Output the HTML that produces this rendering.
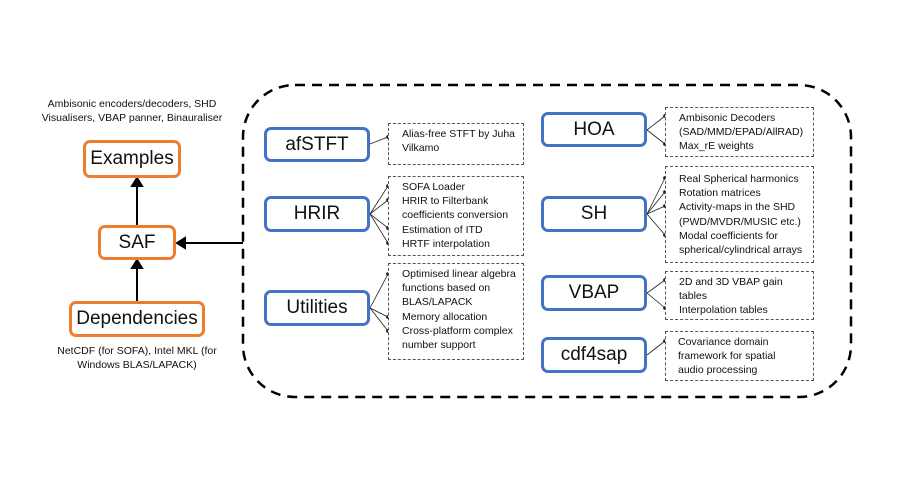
<!DOCTYPE html>
<html><head><meta charset="utf-8"><style>
body{margin:0;width:899px;height:500px;background:#fff;position:relative;overflow:hidden;font-family:"Liberation Sans",sans-serif;color:#111}
.o,.b{position:absolute;box-sizing:border-box;border-radius:7px;background:#fff;display:flex;align-items:center;justify-content:center;font-size:19px}
.o{border:3px solid #ED7D31}
.b{border:3px solid #4472C4}
.t{position:absolute;box-sizing:border-box;border:1px dashed #555;font-size:10.5px;line-height:14.2px;padding:3px 0 0 13px;background:#fff}
.c{position:absolute;font-size:10.5px;line-height:14px;text-align:center;white-space:nowrap}
svg{position:absolute;left:0;top:0}
</style></head><body>
<svg width="899" height="500">
<rect x="243" y="85" width="608" height="312" rx="52" fill="none" stroke="#000" stroke-width="2.5" stroke-dasharray="10,7"/>
<g stroke="#000" stroke-width="2" fill="#000">
<line x1="137" y1="225" x2="137" y2="186"/><polygon points="132,186 142,186 137,178"/>
<line x1="137" y1="301" x2="137" y2="268"/><polygon points="132,268 142,268 137,260"/>
<line x1="243" y1="243" x2="185" y2="243"/><polygon points="185,238 185,248 177,243"/>
</g>
<g stroke="#222" stroke-width="0.8" fill="#222">
<line x1="370" y1="144" x2="388" y2="137"/><circle cx="388" cy="137" r="1.5"/>
<g><line x1="370" y1="214" x2="388" y2="186"/><line x1="370" y1="214" x2="388" y2="200"/><line x1="370" y1="214" x2="388" y2="228"/><line x1="370" y1="214" x2="388" y2="243"/>
<circle cx="388" cy="186" r="1.5"/><circle cx="388" cy="200" r="1.5"/><circle cx="388" cy="228" r="1.5"/><circle cx="388" cy="243" r="1.5"/></g>
<g><line x1="370" y1="308" x2="388" y2="274"/><line x1="370" y1="308" x2="388" y2="317"/><line x1="370" y1="308" x2="388" y2="331"/>
<circle cx="388" cy="274" r="1.5"/><circle cx="388" cy="317" r="1.5"/><circle cx="388" cy="331" r="1.5"/></g>
<g><line x1="647" y1="130" x2="665" y2="116"/><line x1="647" y1="130" x2="665" y2="144"/><circle cx="665" cy="116" r="1.5"/><circle cx="665" cy="144" r="1.5"/></g>
<g><line x1="647" y1="214" x2="665" y2="178"/><line x1="647" y1="214" x2="665" y2="192"/><line x1="647" y1="214" x2="665" y2="206"/><line x1="647" y1="214" x2="665" y2="235"/>
<circle cx="665" cy="178" r="1.5"/><circle cx="665" cy="192" r="1.5"/><circle cx="665" cy="206" r="1.5"/><circle cx="665" cy="235" r="1.5"/></g>
<g><line x1="647" y1="293" x2="665" y2="280"/><line x1="647" y1="293" x2="665" y2="308"/><circle cx="665" cy="280" r="1.5"/><circle cx="665" cy="308" r="1.5"/></g>
<line x1="647" y1="355" x2="665" y2="341"/><circle cx="665" cy="341" r="1.5"/>
</g>
</svg>
<div class="c" style="left:32px;top:97px;width:200px">Ambisonic encoders/decoders, SHD<br>Visualisers, VBAP panner, Binauraliser</div>
<div class="o" style="left:83px;top:140px;width:98px;height:38px">Examples</div>
<div class="o" style="left:98px;top:225px;width:78px;height:35px">SAF</div>
<div class="o" style="left:69px;top:301px;width:136px;height:36px">Dependencies</div>
<div class="c" style="left:37px;top:344px;width:200px">NetCDF (for SOFA), Intel MKL (for<br>Windows BLAS/LAPACK)</div>

<div class="b" style="left:264px;top:127px;width:106px;height:35px">afSTFT</div>
<div class="b" style="left:264px;top:196px;width:106px;height:36px">HRIR</div>
<div class="b" style="left:264px;top:290px;width:106px;height:36px">Utilities</div>
<div class="t" style="left:388px;top:123px;width:136px;height:42px">Alias-free STFT by Juha<br>Vilkamo</div>
<div class="t" style="left:388px;top:176px;width:136px;height:80px">SOFA Loader<br>HRIR to Filterbank<br>coefficients conversion<br>Estimation of ITD<br>HRTF interpolation</div>
<div class="t" style="left:388px;top:263px;width:136px;height:97px">Optimised linear algebra<br>functions based on<br>BLAS/LAPACK<br>Memory allocation<br>Cross-platform complex<br>number support</div>

<div class="b" style="left:541px;top:112px;width:106px;height:35px">HOA</div>
<div class="b" style="left:541px;top:196px;width:106px;height:36px">SH</div>
<div class="b" style="left:541px;top:275px;width:106px;height:36px">VBAP</div>
<div class="b" style="left:541px;top:337px;width:106px;height:36px">cdf4sap</div>
<div class="t" style="left:665px;top:107px;width:149px;height:50px">Ambisonic Decoders<br>(SAD/MMD/EPAD/AllRAD)<br>Max_rE weights</div>
<div class="t" style="left:665px;top:166px;width:149px;height:97px;padding-top:5px">Real Spherical harmonics<br>Rotation matrices<br>Activity-maps in the SHD<br>(PWD/MVDR/MUSIC etc.)<br>Modal coefficients for<br>spherical/cylindrical arrays</div>
<div class="t" style="left:665px;top:271px;width:149px;height:49px">2D and 3D VBAP gain<br>tables<br>Interpolation tables</div>
<div class="t" style="left:665px;top:331px;width:149px;height:50px;padding-left:12px">Covariance domain<br>framework for spatial<br>audio processing</div>
</body></html>
